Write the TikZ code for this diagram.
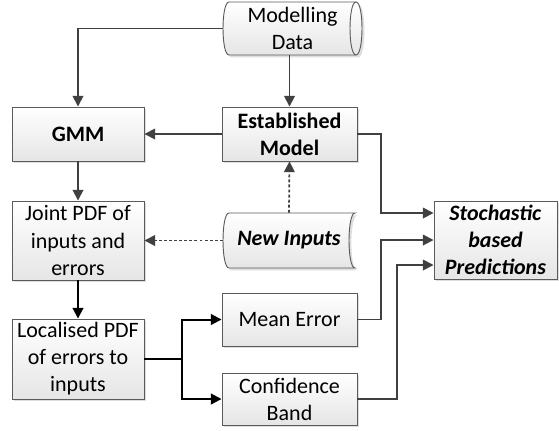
\documentclass[tikz,border=0pt]{standalone}
\usepackage{fontspec}
\setmainfont{Carlito}
\usetikzlibrary{arrows.meta,shadows,calc}

\definecolor{edge}{HTML}{404040}
\definecolor{rim}{HTML}{5A5A5A}

\begin{document}
\begin{tikzpicture}[x=0.75pt,y=-0.75pt,
  txt/.style={align=center, inner sep=0pt, font=\fontsize{16.5}{20.25}\selectfont},
  box/.style={txt, draw=rim, line width=0.7pt, top color=white, bottom color=black!10,
    drop shadow={shadow xshift=1.8pt, shadow yshift=-1.8pt, fill=black, opacity=0.13}},
  ghost/.style={txt, draw=none, fill=none},
  flow/.style={draw=edge, line width=1.3pt, -{Triangle[length=8pt,width=8pt]}},
  bflow/.style={draw=black, line width=1.5pt, -{Triangle[length=8pt,width=8pt]}},
  dflow/.style={flow, dash pattern=on 2.2pt off 1.6pt},
  store/.style={draw=rim, line width=0.7pt, top color=white, bottom color=black!10},
  storeshadow/.style={fill=black, opacity=0.13},
]
\useasboundingbox (0,0) rectangle (559,430);

% ---- storage shapes ----
% Modelling Data (horizontal drum)
\fill[storeshadow, shift={(2.4,2.4)}]
  (229,2) -- (356,2) .. controls (364,2) and (364,55) .. (356,55) -- (229,55)
  .. controls (221,55) and (221,2) .. (229,2) -- cycle;
\path[store]
  (229,2) -- (356,2) .. controls (364,2) and (364,55) .. (356,55) -- (229,55)
  .. controls (221,55) and (221,2) .. (229,2) -- cycle;
\draw[draw=rim, line width=0.7pt] (356,2) .. controls (348,2) and (348,55) .. (356,55);
\node[ghost, minimum width=104.25pt, minimum height=39.75pt] (md) at (292.5,28.5) {Modelling\\Data};

% New Inputs (stored data)
\fill[storeshadow, shift={(2.4,2.4)}]
  (229,213) -- (355,213) .. controls (347,213) and (347,268) .. (355,268) -- (229,268)
  .. controls (221,268) and (221,213) .. (229,213) -- cycle;
\path[store]
  (229,213) -- (355,213) .. controls (347,213) and (347,268) .. (355,268) -- (229,268)
  .. controls (221,268) and (221,213) .. (229,213) -- cycle;
\node[ghost, minimum width=99pt, minimum height=41.25pt] (ni) at (289,240.5)
  {\textbf{\textit{New Inputs}}};

% ---- process boxes ----
\node[box, minimum width=99pt, minimum height=40.5pt] (gmm) at (78,134) {\textbf{GMM}};
\node[box, minimum width=101.25pt, minimum height=40.5pt] (em) at (289.5,134)
  {\textbf{Established}\\\textbf{Model}};
\node[box, minimum width=99pt, minimum height=59.25pt] (joint) at (78,240.5)
  {Joint PDF of\\inputs and\\errors};
\node[box, minimum width=99pt, minimum height=60pt] (loc) at (78,359)
  {Localised PDF\\of errors to\\inputs};
\node[box, minimum width=101.25pt, minimum height=39.75pt] (me) at (289.5,319.5) {Mean Error};
\node[box, minimum width=101.25pt, minimum height=39pt] (cb) at (289.5,399)
  {Confidence\\Band};
\node[box, minimum width=92.25pt, minimum height=58.5pt] (sp) at (495.5,240)
  {\textbf{\textit{Stochastic}}\\\textbf{\textit{based}}\\\textbf{\textit{Predictions}}};

% ---- bend points ----
\coordinate (split) at (182,359);
\coordinate (j1) at (381,213);
\coordinate (j2) at (381,240);
\coordinate (j3) at (397,265);

% ---- connectors ----
\draw[flow] (em.north |- md.south) -- (em.north);
\draw[flow] (md.west) -| (gmm.north);
\draw[flow] (em.west) -- (gmm.east);
\draw[flow] (gmm.south) -- (joint.north);
\draw[bflow] (joint.south) -- (loc.north);
\draw[bflow] (loc.east) -- (split) |- (me.west);
\draw[bflow] (split) |- (cb.west);
\draw[dflow] (ni.north) -- (em.south);
\draw[dflow] (ni.west) -- (joint.east);
\draw[flow] (em.east) -| (j1) -- (sp.west |- j1);
\draw[flow] (me.east) -| (j2) -- (sp.west |- j2);
\draw[flow] (cb.east) -| (j3) -- (sp.west |- j3);
\end{tikzpicture}
\end{document}
